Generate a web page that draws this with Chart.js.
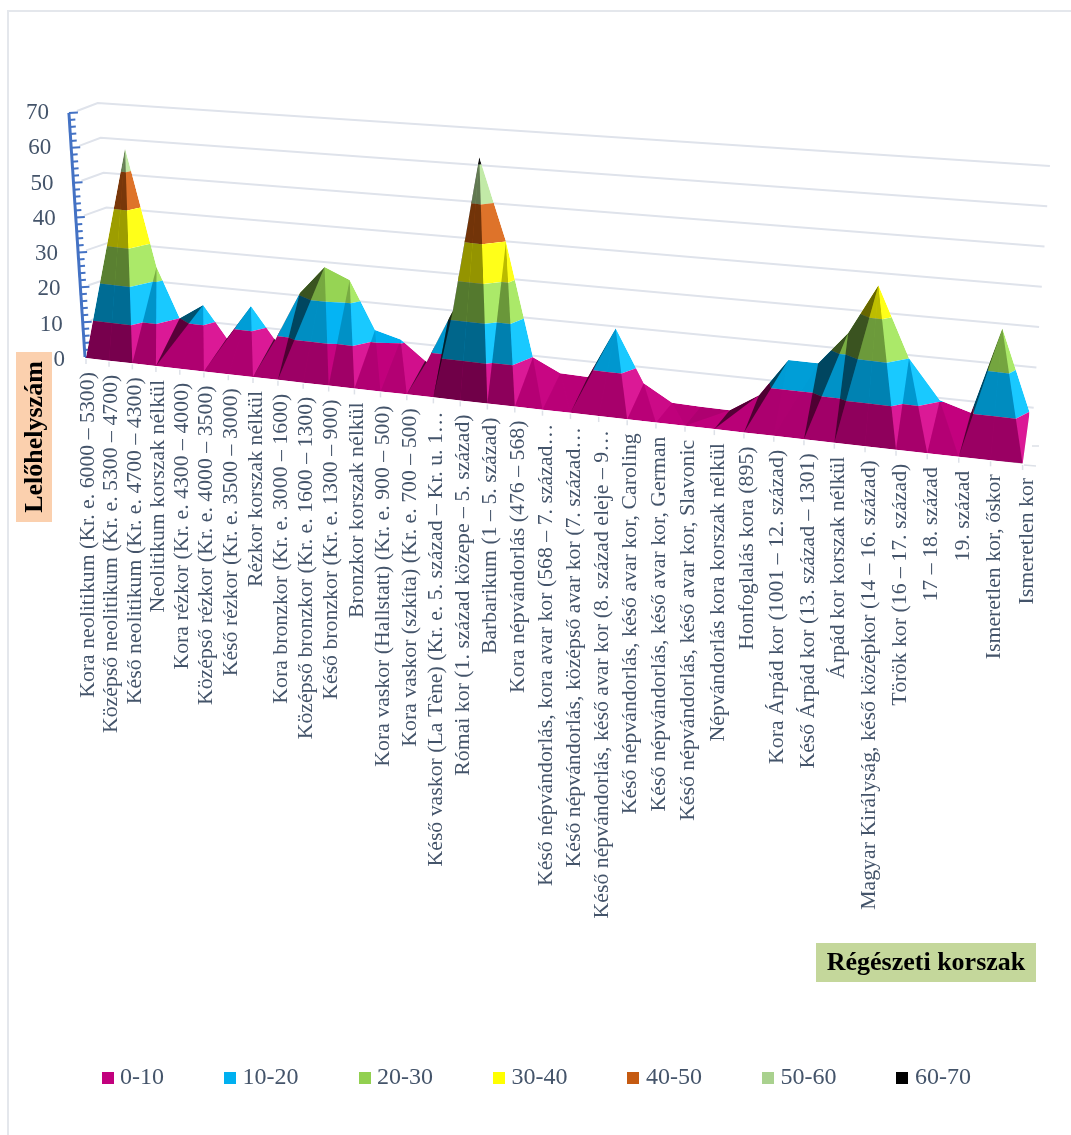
<!DOCTYPE html>
<html lang="hu">
<head>
<meta charset="utf-8">
<title>Lelőhelyszám régészeti korszakonként</title>
<script src="https://cdn.jsdelivr.net/npm/chart.js@4/dist/chart.umd.js"></script>
<style>
  html, body { margin: 0; background: #fff; }
  canvas { display: block; }
</style>
</head>
<body>
<canvas id="chart" width="1071" height="1135"></canvas>
<script>
// Adatok
const categories = [
  'Kora neolitikum (Kr. e. 6000 – 5300)',
  'Középső neolitikum (Kr. e. 5300 – 4700)',
  'Késő neolitikum (Kr. e. 4700 – 4300)',
  'Neolitikum korszak nélkül',
  'Kora rézkor (Kr. e. 4300 – 4000)',
  'Középső rézkor (Kr. e. 4000 – 3500)',
  'Késő rézkor (Kr. e. 3500 – 3000)',
  'Rézkor korszak nélkül',
  'Kora bronzkor (Kr. e. 3000 – 1600)',
  'Középső bronzkor (Kr. e. 1600 – 1300)',
  'Késő bronzkor (Kr. e. 1300 – 900)',
  'Bronzkor korszak nélkül',
  'Kora vaskor (Hallstatt) (Kr. e. 900 – 500)',
  'Kora vaskor (szkíta) (Kr. e. 700 – 500)',
  'Késő vaskor (La Tène) (Kr. e. 5. század – Kr. u. 1…',
  'Római kor (1. század közepe – 5. század)',
  'Barbarikum (1 – 5. század)',
  'Kora népvándorlás (476 – 568)',
  'Késő népvándorlás, kora avar kor (568 – 7. század…',
  'Késő népvándorlás, középső avar kor (7. század…',
  'Késő népvándorlás, késő avar kor (8. század eleje – 9…',
  'Késő népvándorlás, késő avar kor, Caroling',
  'Késő népvándorlás, késő avar kor, German',
  'Késő népvándorlás, késő avar kor, Slavonic',
  'Népvándorlás kora korszak nélkül',
  'Honfoglalás kora (895)',
  'Kora Árpád kor (1001 – 12. század)',
  'Késő Árpád kor (13. század – 1301)',
  'Árpád kor korszak nélkül',
  'Magyar Királyság, késő középkor (14 – 16. század)',
  'Török kor (16 – 17. század)',
  '17 – 18. század',
  '19. század',
  'Ismeretlen kor, őskor',
  'Ismeretlen kor'
];
const siteCounts = [
  0, 56.3, 23.6, 10, 14.4, 5.9, 15.5, 6.9, 20.5, 28.3,
  25.5, 12.6, 10.8, 5.5, 20, 61.9, 40, 9.9, 6.5, 6.3,
  19.9, 6.3, 2, 1.8, 1.8, 6.5, 16.4, 16.4, 24.9, 37.8,
  20.1, 10.3, 8, 30, 9.9
];
const bandLabels = ['0-10', '10-20', '20-30', '30-40', '40-50', '50-60', '60-70'];
const bandTops = [10, 20, 30, 40, 50, 60, 70];
const bandColors = ['#C2007D', '#00B0F0', '#92D050', '#FFFF00', '#C55A11', '#A9D18E', '#000000'];
const yTicks = [0, 10, 20, 30, 40, 50, 60, 70];

const serif = '"Liberation Serif", "Times New Roman", serif';
const textColor = '#44546A';
const wallColor = '#DFE3EB';
const last = categories.length - 1;

// Vetítés: elülső sor a padlón, hátsó sor a tényleges értéken
function floorY(x) { return 358 + 0.113 * (x - 85); }
function frontPoint(chart, i) {
  const xs = chart.scales.x;
  const u = (xs.getPixelForValue(i) - xs.left) / xs.width;
  const x = 86 + 778.6 * u + 158 * u * u;
  return { x: x, y: floorY(x) };
}
function topPoint(chart, i) {
  const f = frontPoint(chart, i);
  if (siteCounts[i] === 0) return f;
  const ys = chart.scales.y;
  const unit = (ys.getPixelForValue(0) - ys.getPixelForValue(10)) / 10;
  let shift = 25 - 0.4 * i;
  if (i === 1) shift = 16;
  if (i === last) shift = 7;
  const scale = (3.57 + 0.0005 * (f.x - 125)) / 3.486;
  return { x: f.x + shift, y: f.y - 12 - unit * scale * siteCounts[i] };
}
function lerp(a, b, t) { return { x: a.x + (b.x - a.x) * t, y: a.y + (b.y - a.y) * t }; }

// Egy (pozíció, érték) pont helye a felületen
function project(chart, pos, value) {
  const i = Math.floor(pos);
  const t = pos - i;
  if (t === 0) {
    const p = lerp(frontPoint(chart, i), topPoint(chart, i), siteCounts[i] ? value / siteCounts[i] : 0);
    if (i === last) p.x = topPoint(chart, i).x;   // a jobb szél függőleges, a körvonal vágja le
    return p;
  }
  const a = siteCounts[i];
  const b = siteCounts[i + 1];
  if (Math.abs(a + (b - a) * t - value) < 1e-6) {
    return lerp(topPoint(chart, i), topPoint(chart, i + 1), t);
  }
  // a lapot kettéosztó átló mentén
  return b >= a
    ? lerp(frontPoint(chart, i), topPoint(chart, i + 1), value / b)
    : lerp(frontPoint(chart, i + 1), topPoint(chart, i), value / a);
}

// Szintvonal a felületen
function levelLine(level) {
  const line = [];
  siteCounts.forEach((v, i) => {
    line.push({ x: i, y: Math.min(v, level) });
    if (i === last) return;
    const next = siteCounts[i + 1];
    if (v >= level && next >= level) {
      line.push({ x: i + 0.5, y: level });
    } else if (v < level && next > level) {
      const t = (level - v) / (next - v);
      line.push({ x: i + t, y: level });
      line.push({ x: i + (t + 1) / 2, y: level });
    } else if (v > level && next < level) {
      const t = (level - v) / (next - v);
      line.push({ x: i + t / 2, y: level });
      line.push({ x: i + t, y: level });
    }
  });
  return line;
}

function makeSwatch(color) {
  const c = document.createElement('canvas');
  c.width = 12;
  c.height = 12;
  const g = c.getContext('2d');
  g.fillStyle = color;
  g.fillRect(0, 0, 12, 12);
  return c;
}

const datasets = [{
  label: 'padló',
  data: siteCounts.map((v, i) => ({ x: i, y: 0 })),
  borderWidth: 0,
  pointRadius: 0,
  fill: false
}];
bandLabels.forEach((label, k) => {
  datasets.push({
    label: label,
    data: levelLine(bandTops[k]),
    backgroundColor: bandColors[k],
    borderColor: bandColors[k],
    borderWidth: 0,
    pointRadius: 0,
    pointStyle: makeSwatch(bandColors[k]),
    clip: false,
    fill: '-1'
  });
});

function silhouettePath(ctx, chart) {
  ctx.beginPath();
  siteCounts.forEach((v, i) => {
    const p = topPoint(chart, i);
    if (i === 0) ctx.moveTo(p.x, p.y); else ctx.lineTo(p.x, p.y);
  });
  for (let i = last; i >= 0; i--) {
    const f = frontPoint(chart, i);
    ctx.lineTo(f.x, f.y);
  }
  ctx.closePath();
}

function shadeTriangle(ctx, a, b, c, amount) {
  if (Math.abs(amount) < 0.005) return;
  if (amount > 0) {
    ctx.globalCompositeOperation = 'source-over';
    ctx.fillStyle = `rgba(0,0,0,${amount})`;
  } else {
    const n = Math.round(-amount * 180);
    ctx.globalCompositeOperation = 'lighter';
    ctx.fillStyle = `rgb(${n},${n},${n})`;
  }
  ctx.beginPath();
  ctx.moveTo(a.x, a.y);
  ctx.lineTo(b.x, b.y);
  ctx.lineTo(c.x, c.y);
  ctx.closePath();
  ctx.fill();
}

const surfacePlugin = {
  id: 'surface',
  afterDatasetsUpdate(chart) {
    chart.data.datasets.forEach((ds, k) => {
      chart.getDatasetMeta(k).data.forEach((pt, j) => {
        const p = project(chart, ds.data[j].x, ds.data[j].y);
        pt.x = p.x;
        pt.y = p.y;
      });
    });
  },
  afterLayout(chart) {
    chart.legend.top = 1078 - chart.options.plugins.legend.labels.padding - 12;
    chart.legend.left += 24;
    chart.legend.right += 24;
  },
  beforeDraw(chart) {
    const ctx = chart.ctx;
    ctx.save();
    ctx.fillStyle = '#fff';
    ctx.fillRect(0, 0, chart.width, chart.height);
    // a keretből csak a felső és a bal oldali vonal látszik
    ctx.strokeStyle = '#E4E7EC';
    ctx.lineWidth = 2;
    ctx.beginPath();
    ctx.moveTo(8, 1135);
    ctx.lineTo(8, 11);
    ctx.lineTo(1071, 11);
    ctx.stroke();
    ctx.restore();

    // tengelyfeliratok a ferde tengelyek mellé
    chart.scales.x.getLabelItems(chart.chartArea).forEach((item, i) => {
      const f = frontPoint(chart, i);
      item.textOffset = 0;
      item.options.textAlign = 'right';
      item.options.textBaseline = 'middle';
      item.options.translation = [f.x + 2.5 + 0.05 * i, f.y + 14];
    });
    chart.scales.x.top = 0;   // különben a címkék a skála dobozára vágódnak
    chart.scales.y.getLabelItems(chart.chartArea).forEach((item, i) => {
      const v = yTicks[i];
      item.textOffset = 0;
      item.options.textAlign = 'right';
      item.options.textBaseline = 'middle';
      item.options.translation = [65 - 0.23 * v, 360 - 3.53 * v];
    });
  },
  beforeDatasetsDraw(chart) {
    const ctx = chart.ctx;
    const ys = chart.scales.y;
    // hátsó fal vonalai
    ctx.save();
    ctx.strokeStyle = wallColor;
    ctx.lineWidth = 2;
    yTicks.forEach(v => {
      if (v === 0) return;
      const raw = ys.getPixelForValue(v);
      ctx.beginPath();
      ctx.moveTo(85 - 0.23 * v + 8, raw - 2);
      ctx.lineTo(118 - 0.29 * v, raw - 10);
      ctx.lineTo(1031 + 0.27 * v, 448 - 4.03 * v);
      ctx.stroke();
    });
    // függőleges tengely
    ctx.strokeStyle = '#4472C4';
    ctx.lineWidth = 3;
    ctx.beginPath();
    ctx.moveTo(85, ys.getPixelForValue(0));
    ctx.lineTo(85 - 0.23 * 70, ys.getPixelForValue(70));
    ctx.stroke();
    ctx.lineWidth = 2;
    for (let v = 0; v <= 70; v += 2) {
      const ax = 85 - 0.23 * v;
      const py = ys.getPixelForValue(v);
      ctx.beginPath();
      ctx.moveTo(ax, py);
      ctx.lineTo(ax + (v % 10 === 0 ? 9 : 6), py - 0.5);
      ctx.stroke();
    }
    // alsó tengely osztásai
    ctx.strokeStyle = '#DDE1E8';
    ctx.lineWidth = 1.5;
    categories.forEach((c, i) => {
      const f = frontPoint(chart, i);
      ctx.beginPath();
      ctx.moveTo(f.x, f.y + 1);
      ctx.lineTo(f.x, f.y + 6);
      ctx.stroke();
    });
    ctx.beginPath();
    ctx.moveTo(1024, 465);
    ctx.lineTo(1036, 466);
    ctx.moveTo(1032, 446);
    ctx.lineTo(1039, 446);
    ctx.stroke();
    ctx.restore();

    // a sávok a felület körvonalára vágva
    ctx.save();
    silhouettePath(ctx, chart);
    ctx.clip();
  },
  afterDatasetsDraw(chart) {
    const ctx = chart.ctx;
    const top = i => topPoint(chart, i);
    const front = i => frontPoint(chart, i);
    // háromszög lapok árnyalása
    for (let i = 0; i < last; i++) {
      const a = siteCounts[i];
      const b = siteCounts[i + 1];
      const dv = b - a;
      if (dv >= 0) {
        shadeTriangle(ctx, front(i), top(i), top(i + 1), Math.min(0.6, 0.1 + 0.1 * dv));
        shadeTriangle(ctx, front(i), front(i + 1), top(i + 1), 0.0068 * b);
      } else {
        shadeTriangle(ctx, front(i), front(i + 1), top(i), 0.0068 * a);
        shadeTriangle(ctx, front(i + 1), top(i), top(i + 1), Math.max(-0.14, 0.05 + 0.025 * dv));
      }
    }
    ctx.restore();
  },
  afterDraw(chart) {
    const ctx = chart.ctx;
    ctx.save();
    // y tengely címe
    ctx.fillStyle = '#FBD0AE';
    ctx.fillRect(16, 352, 36, 170);
    ctx.fillStyle = '#000';
    ctx.font = 'bold 26px ' + serif;
    ctx.textAlign = 'center';
    ctx.textBaseline = 'middle';
    ctx.save();
    ctx.translate(35, 437);
    ctx.rotate(-Math.PI / 2);
    ctx.fillText('Lelőhelyszám', 0, 0);
    ctx.restore();
    // x tengely címe
    ctx.fillStyle = '#C4D79B';
    ctx.fillRect(816, 943, 220, 39);
    ctx.fillStyle = '#000';
    ctx.fillText('Régészeti korszak', 926, 963);
    ctx.restore();
  }
};

new Chart(document.getElementById('chart'), {
  type: 'line',
  data: { datasets: datasets },
  plugins: [surfacePlugin],
  options: {
    responsive: false,
    animation: false,
    events: [],
    layout: { padding: { top: 113, right: 41, left: 0, bottom: 0 } },
    scales: {
      x: {
        type: 'linear',
        min: 0,
        max: last,
        grid: { display: false },
        border: { display: false },
        afterBuildTicks: s => { s.ticks = categories.map((c, i) => ({ value: i })); },
        afterFit: s => { s.height = 1135 - 479 - s.chart.legend.height; },
        ticks: {
          autoSkip: false,
          minRotation: 90,
          maxRotation: 90,
          color: textColor,
          font: { family: serif, size: 21.8 },
          callback: v => categories[v]
        }
      },
      y: {
        min: -35,
        max: 70,
        grid: { display: false },
        border: { display: false },
        afterBuildTicks: s => { s.ticks = yTicks.map(v => ({ value: v })); },
        afterFit: s => { s.width = 85; },
        ticks: {
          color: textColor,
          font: { family: serif, size: 23 }
        }
      }
    },
    plugins: {
      tooltip: { enabled: false },
      legend: {
        position: 'bottom',
        labels: {
          usePointStyle: true,
          pointStyleWidth: 1,
          boxHeight: 12,
          padding: 65.5,
          color: textColor,
          font: { family: serif, size: 24 },
          filter: item => item.datasetIndex > 0
        }
      }
    }
  }
});
</script>
</body>
</html>
